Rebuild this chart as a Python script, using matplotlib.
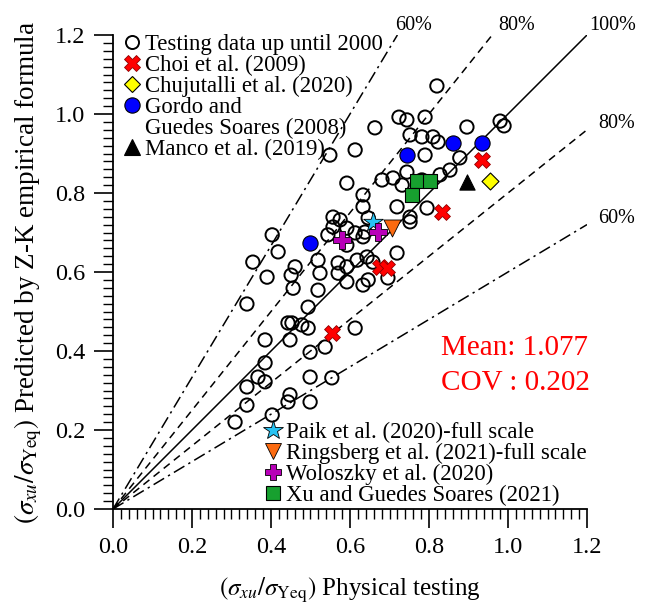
import numpy as np
import matplotlib
matplotlib.use("Agg")
import matplotlib.pyplot as plt
from matplotlib.lines import Line2D

plt.rcParams['font.family'] = ['Liberation Serif', 'DejaVu Serif']
plt.rcParams['mathtext.fontset'] = 'stix'

# Testing data up until 2000 (physical testing, Z-K prediction)
test_x = [0.820, 0.980, 0.990, 0.724, 0.744, 0.790, 0.663, 0.896, 0.549, 0.613,
          0.752, 0.782, 0.810, 0.823, 0.790, 0.878, 0.744, 0.853, 0.828, 0.592,
          0.681, 0.709, 0.732, 0.782, 0.633, 0.633, 0.719, 0.795, 0.752, 0.752,
          0.557, 0.575, 0.646, 0.557, 0.592, 0.613, 0.638, 0.633, 0.544, 0.592,
          0.403, 0.418, 0.354, 0.390, 0.451, 0.456, 0.519, 0.524, 0.570, 0.592,
          0.618, 0.643, 0.658, 0.719, 0.570, 0.519, 0.592, 0.646, 0.696, 0.633,
          0.339, 0.494, 0.443, 0.453, 0.478, 0.494, 0.613, 0.385, 0.448, 0.537,
          0.499, 0.385, 0.367, 0.385, 0.339, 0.499, 0.554, 0.339, 0.448, 0.443,
          0.499, 0.309, 0.403, 0.461]
test_y = [1.071, 0.982, 0.970, 0.992, 0.985, 0.992, 0.965, 0.967, 0.896, 0.909,
          0.947, 0.942, 0.942, 0.929, 0.896, 0.889, 0.853, 0.858, 0.846, 0.825,
          0.833, 0.838, 0.820, 0.833, 0.795, 0.765, 0.765, 0.762, 0.739, 0.727,
          0.739, 0.732, 0.737, 0.714, 0.711, 0.699, 0.701, 0.689, 0.694, 0.668,
          0.694, 0.651, 0.625, 0.587, 0.592, 0.559, 0.630, 0.597, 0.623, 0.613,
          0.630, 0.638, 0.625, 0.648, 0.597, 0.554, 0.575, 0.580, 0.585, 0.567,
          0.519, 0.511, 0.471, 0.471, 0.466, 0.458, 0.458, 0.428, 0.428, 0.410,
          0.397, 0.370, 0.334, 0.322, 0.309, 0.334, 0.332, 0.263, 0.289, 0.271,
          0.271, 0.220, 0.238, 0.613]

choi_x = [0.934, 0.833, 0.676, 0.694, 0.554]
choi_y = [0.884, 0.752, 0.613, 0.610, 0.446]
chuj_x = [0.954]
chuj_y = [0.830]
gordo_x = [0.744, 0.861, 0.934, 0.499]
gordo_y = [0.896, 0.927, 0.927, 0.673]
manco_x = [0.896]
manco_y = [0.828]
paik_x = [0.658]
paik_y = [0.727]
rings_x = [0.706]
rings_y = [0.711]
wolo_x = [0.671, 0.580]
wolo_y = [0.701, 0.681]
xu_x = [0.770, 0.803, 0.757]
xu_y = [0.830, 0.830, 0.795]

# reference ratios (predicted / tested)
ratios = [1 / 0.6, 1 / 0.8, 1.0, 0.8, 0.6]
ratio_labels = ['60%', '80%', '100%', '80%', '60%']
ratio_styles = [(0, (8, 3, 1.5, 3)), (0, (5, 3.5)), '-', (0, (5, 3.5)), (0, (8, 3, 1.5, 3))]
mean_val = 1.077
cov_val = 0.202

fig = plt.figure(figsize=(6.51, 6.06), dpi=100)
ax = fig.add_axes([113 / 651, 97 / 606, 474 / 651, 474 / 606])

lim = 1.2
# where each percentage label goes (axes data units)
label_pos = [(0.76, 1.225), (1.023, 1.225), (1.265, 1.225), (1.275, 0.975), (1.275, 0.735)]
for r, lab, ls, (lx, ly) in zip(ratios, ratio_labels, ratio_styles, label_pos):
    xe = min(lim, lim / r)
    ax.plot([0, xe], [0, xe * r], color='black', lw=1.1, linestyle=ls, zorder=1)
    ax.text(lx, ly, lab, fontsize=14.5, ha='center', va='center', clip_on=False)

ax.scatter(test_x, test_y, s=92, facecolor='none', edgecolor='black', lw=1.4, zorder=2)
ax.scatter(gordo_x, gordo_y, s=120, marker='o', facecolor='#0000ff', edgecolor='black', lw=0.8, zorder=3)
ax.scatter(xu_x, xu_y, s=115, marker='s', facecolor='#17a02f', edgecolor='black', lw=0.8, zorder=3)
ax.scatter(choi_x, choi_y, s=130, marker='X', facecolor='#ff0000', edgecolor='#900000', lw=0.6, zorder=4)
ax.scatter(chuj_x, chuj_y, s=75, marker='D', facecolor='#ffff00', edgecolor='black', lw=0.8, zorder=4)
ax.scatter(manco_x, manco_y, s=120, marker='^', facecolor='black', edgecolor='black', lw=0.8, zorder=4)
ax.scatter(paik_x, paik_y, s=220, marker='*', facecolor='#27c3f3', edgecolor='black', lw=0.6, zorder=4)
ax.scatter(rings_x, rings_y, s=150, marker='v', facecolor='#fb6a10', edgecolor='black', lw=0.6, zorder=4)
ax.scatter(wolo_x, wolo_y, s=150, marker='P', facecolor='#b800b8', edgecolor='black', lw=0.6, zorder=4)

ax.text(0.83, 0.408, 'Mean: %.3f' % mean_val, color='#ff0000', fontsize=21, va='center')
ax.text(0.83, 0.318, 'COV : %.3f' % cov_val, color='#ff0000', fontsize=21, va='center')

ax.set_xlim(0, lim)
ax.set_ylim(0, lim)
ticks = np.arange(0, 1.21, 0.2)
ax.set_xticks(ticks)
ax.set_yticks(ticks)
ax.set_xticklabels(['%.1f' % t for t in ticks])
ax.set_yticklabels(['%.1f' % t for t in ticks])
ax.set_xticks(np.arange(0, 1.201, 0.02), minor=True)
ax.set_yticks(np.arange(0, 1.201, 0.02), minor=True)
ax.tick_params(which='major', direction='out', length=14, width=1.2, labelsize=17.5, pad=6)
ax.tick_params(which='minor', direction='out', length=7, width=1.0)
ax.spines['top'].set_visible(False)
ax.spines['right'].set_visible(False)
for s in ['left', 'bottom']:
    ax.spines[s].set_linewidth(1.3)

ax.set_xlabel(r'$(\sigma_{xu}/\sigma_{\mathrm{Yeq}})$ Physical testing', fontsize=18, labelpad=13)
ax.set_ylabel(r'$(\sigma_{xu}/\sigma_{\mathrm{Yeq}})$ Predicted by Z-K empirical formula', fontsize=19.5, labelpad=8)


def mk(marker, fc, ec, ms, mew=0.8):
    return Line2D([], [], linestyle='none', marker=marker, markerfacecolor=fc,
                  markeredgecolor=ec, markersize=ms, markeredgewidth=mew)


blank = Line2D([], [], linestyle='none')
h1 = [mk('o', 'none', 'black', 9.4, 1.4), mk('X', '#ff0000', '#900000', 11.5, 0.6),
      mk('D', '#ffff00', 'black', 8.5), mk('o', '#0000ff', 'black', 11), blank,
      mk('^', 'black', 'black', 11)]
l1 = ['Testing data up until 2000', 'Choi et al. (2009)', 'Chujutalli et al. (2020)',
      'Gordo and', 'Guedes Soares (2008)', 'Manco et al. (2019)']
leg1 = ax.legend(h1, l1, loc='upper left', bbox_to_anchor=(0.025, 1.003), frameon=False,
                 fontsize=16.4, borderpad=0, borderaxespad=0, labelspacing=0.0,
                 handlelength=0.6, handletextpad=0.27)
ax.add_artist(leg1)

h2 = [mk('*', '#27c3f3', 'black', 15, 0.6), mk('v', '#fb6a10', 'black', 12, 0.6),
      mk('P', '#b800b8', 'black', 12, 0.6), mk('s', '#17a02f', 'black', 10.5)]
l2 = ['Paik et al. (2020)-full scale', 'Ringsberg et al. (2021)-full scale',
      'Woloszky et al. (2020)', 'Xu and Guedes Soares (2021)']
ax.legend(h2, l2, loc='upper left', bbox_to_anchor=(0.323, 0.184), frameon=False,
          fontsize=16.4, borderpad=0, borderaxespad=0, labelspacing=0.0,
          handlelength=0.6, handletextpad=0.27)

fig.savefig('out.png', dpi=100)
